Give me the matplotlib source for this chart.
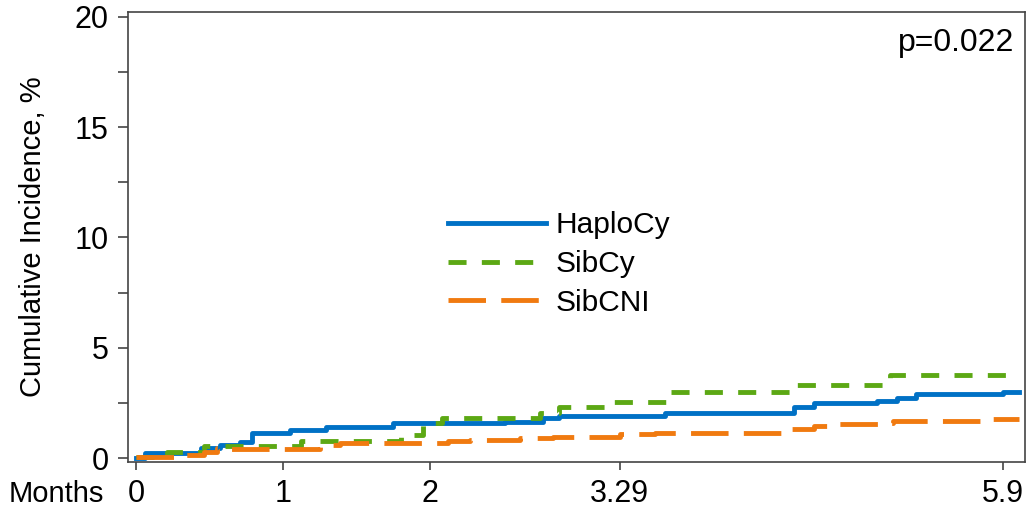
import matplotlib
matplotlib.use("Agg")
import matplotlib.pyplot as plt
from matplotlib.ticker import MultipleLocator

plt.rcParams['font.family'] = ['Liberation Sans', 'DejaVu Sans']
plt.rcParams['lines.scale_dashes'] = False

# step times (months) and cumulative incidence (%)
haplo_t = [0, 0.06, 0.44, 0.57, 0.71, 0.79, 1.05, 1.29, 1.75, 2.51, 2.77, 2.88,
           3.60, 4.48, 4.61, 5.04, 5.18, 5.31, 5.90, 6.01]
haplo_y = [0, 0.21, 0.45, 0.59, 0.74, 1.12, 1.27, 1.42, 1.57, 1.65, 1.83, 1.92,
           2.05, 2.33, 2.48, 2.58, 2.70, 2.89, 3.00, 3.00]

sibcy_t = [0, 0.21, 0.46, 0.84, 1.12, 1.80, 1.95, 2.08, 2.75, 2.88, 3.22, 3.61,
           4.47, 5.13, 6.01]
sibcy_y = [0.05, 0.29, 0.54, 0.54, 0.77, 1.04, 1.57, 1.80, 2.03, 2.33, 2.55, 3.00,
           3.31, 3.76, 3.76]

sibcni_t = [0, 0.28, 0.46, 0.55, 0.62, 1.25, 1.39, 2.12, 2.27, 2.61, 2.84, 3.29,
            3.53, 4.45, 4.61, 4.72, 5.08, 5.15, 5.79, 6.01]
sibcni_y = [0.05, 0.16, 0.29, 0.44, 0.42, 0.59, 0.69, 0.79, 0.83, 0.90, 0.97, 1.07,
            1.15, 1.30, 1.45, 1.54, 1.60, 1.69, 1.75, 1.75]

x_ticks = [0, 1, 2, 3.29, 5.9]
x_labels = ['0', '1', '2', '3.29', '5.9']
p_text = 'p=0.022'

blue = '#0071C5'
green = '#5CA814'
orange = '#F07A10'

fig = plt.figure(figsize=(10.3, 5.15), dpi=100)
ax = fig.add_axes([0.1243, 0.1029, 0.8707, 0.8738])

ax.step(haplo_t, haplo_y, where='post', color=blue, lw=3.5, label='HaploCy')
ax.step(sibcy_t, sibcy_y, where='post', color=green, lw=3.5,
        linestyle=(0, (13, 11)), label='SibCy')
ax.step(sibcni_t, sibcni_y, where='post', color=orange, lw=3.5,
        linestyle=(0, (27, 11)), label='SibCNI')

ax.set_xlim(-0.054, 6.048)
ax.set_ylim(-0.18, 20.22)

ax.set_xticks(x_ticks)
ax.set_xticklabels(x_labels)
ax.yaxis.set_major_locator(MultipleLocator(5))
ax.yaxis.set_minor_locator(MultipleLocator(2.5))

for sp in ax.spines.values():
    sp.set_color('#444444')
    sp.set_linewidth(1.2)

ax.tick_params(axis='y', which='both', length=7, width=1.2, color='#444444',
               labelsize=22, pad=7)
ax.tick_params(axis='x', length=6, width=1.2, color='#444444', labelsize=22, pad=6)

ax.set_ylabel('Cumulative Incidence, %', fontsize=21)
ax.yaxis.set_label_coords(-0.090, 0.5)

fig.text(0.008, 1 - 494 / 515, 'Months', fontsize=21, ha='left', va='center')
ax.text(0.988, 0.965, p_text, transform=ax.transAxes, fontsize=23,
        ha='right', va='top')

leg = ax.legend(loc='center left', bbox_to_anchor=(0.34, 0.44), frameon=False,
                fontsize=21.5, handlelength=3.3, handletextpad=0.3,
                labelspacing=0.36, borderpad=0)

fig.savefig('out.png', dpi=100)
